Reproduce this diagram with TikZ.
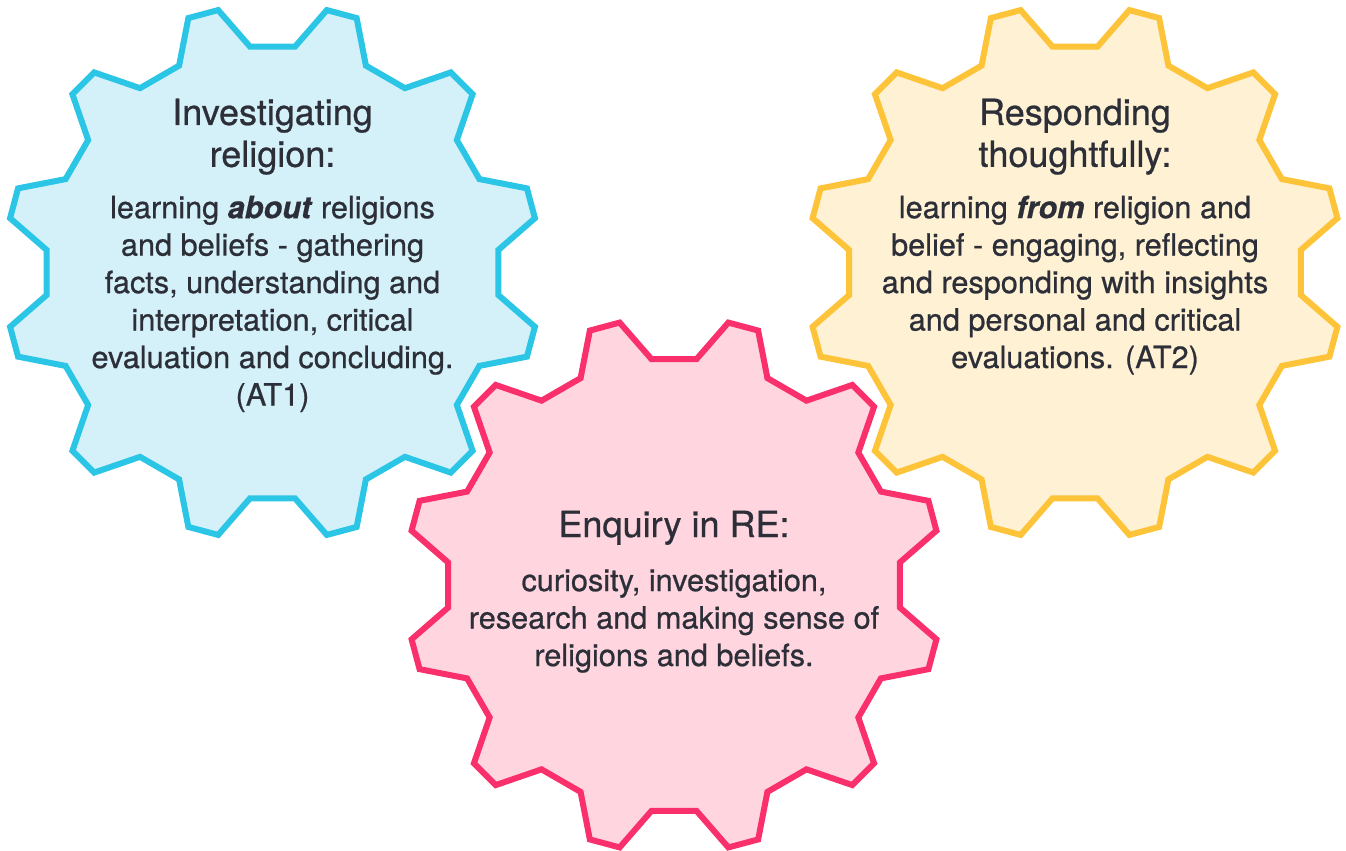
\documentclass[tikz,border=0pt]{standalone}
\usepackage{fontspec}
\setmainfont{TeX Gyre Heros}[FakeBold=0.7]
\usetikzlibrary{calc}
\definecolor{inktext}{RGB}{45,47,56}
\definecolor{bluestroke}{RGB}{43,197,230}
\definecolor{bluefill}{RGB}{212,241,250}
\definecolor{goldstroke}{RGB}{253,196,58}
\definecolor{goldfill}{RGB}{255,241,211}
\definecolor{rosestroke}{RGB}{250,48,108}
\definecolor{rosefill}{RGB}{255,214,224}
% a twelve-tooth gear outline around a named centre
\newcommand{\gearoutline}[1]{%
  ($(#1)+(5.7:227)$)
  \foreach \k in {0,...,11}{
    -- ($(#1)+({15+30*\k-9.3}:227)$)
    -- ($(#1)+({15+30*\k-3.3}:268)$)
    -- ($(#1)+({15+30*\k+3.3}:268)$)
    -- ($(#1)+({15+30*\k+9.3}:227)$)
  } -- cycle}
\tikzset{
  gearline/.style={line width=4.5, line join=miter},
  % multi-line nodes sit on the baseline of their last line
  headtext/.style={text=inktext, align=center, inner sep=0pt, anchor=base,
    font=\fontsize{27}{31.4}\selectfont},
  bodytext/.style={text=inktext, align=center, inner sep=0pt, anchor=base,
    font=\fontsize{23}{28.1}\selectfont},
}
\begin{document}
\begin{tikzpicture}[x=0.75pt, y=-0.75pt]
\useasboundingbox (0,0) rectangle (1346,850);
\coordinate (cblue) at (272.5,272.5);
\coordinate (cgold) at (1075,272.5);
\coordinate (crose) at (674,585);

\filldraw[gearline, draw=bluestroke, fill=bluefill] \gearoutline{cblue};
\filldraw[gearline, draw=goldstroke, fill=goldfill] \gearoutline{cgold};
\filldraw[gearline, draw=rosestroke, fill=rosefill] \gearoutline{crose};

\node[headtext] (bluehead) at (272.5,166.8) {Investigating\\religion:};
\node[bodytext] (bluebody) at (272.5,405.5) {learning \textbf{\textit{about}} religions\\and beliefs - gathering\\facts, understanding and\\interpretation, critical\\evaluation and concluding.\\(AT1)};

\node[headtext] (goldhead) at (1075,166.8) {Responding\\thoughtfully:};
\node[bodytext] (goldbody) at (1075,368) {learning \textbf{\textit{from}} religion and\\belief - engaging, reflecting\\and responding with insights\\and personal and critical\\evaluations. (AT2)};

\node[headtext] (rosehead) at (674,537) {Enquiry in RE:};
\node[bodytext] (rosebody) at (674,666) {curiosity, investigation,\\research and making sense of\\religions and beliefs.};
\end{tikzpicture}
\end{document}
